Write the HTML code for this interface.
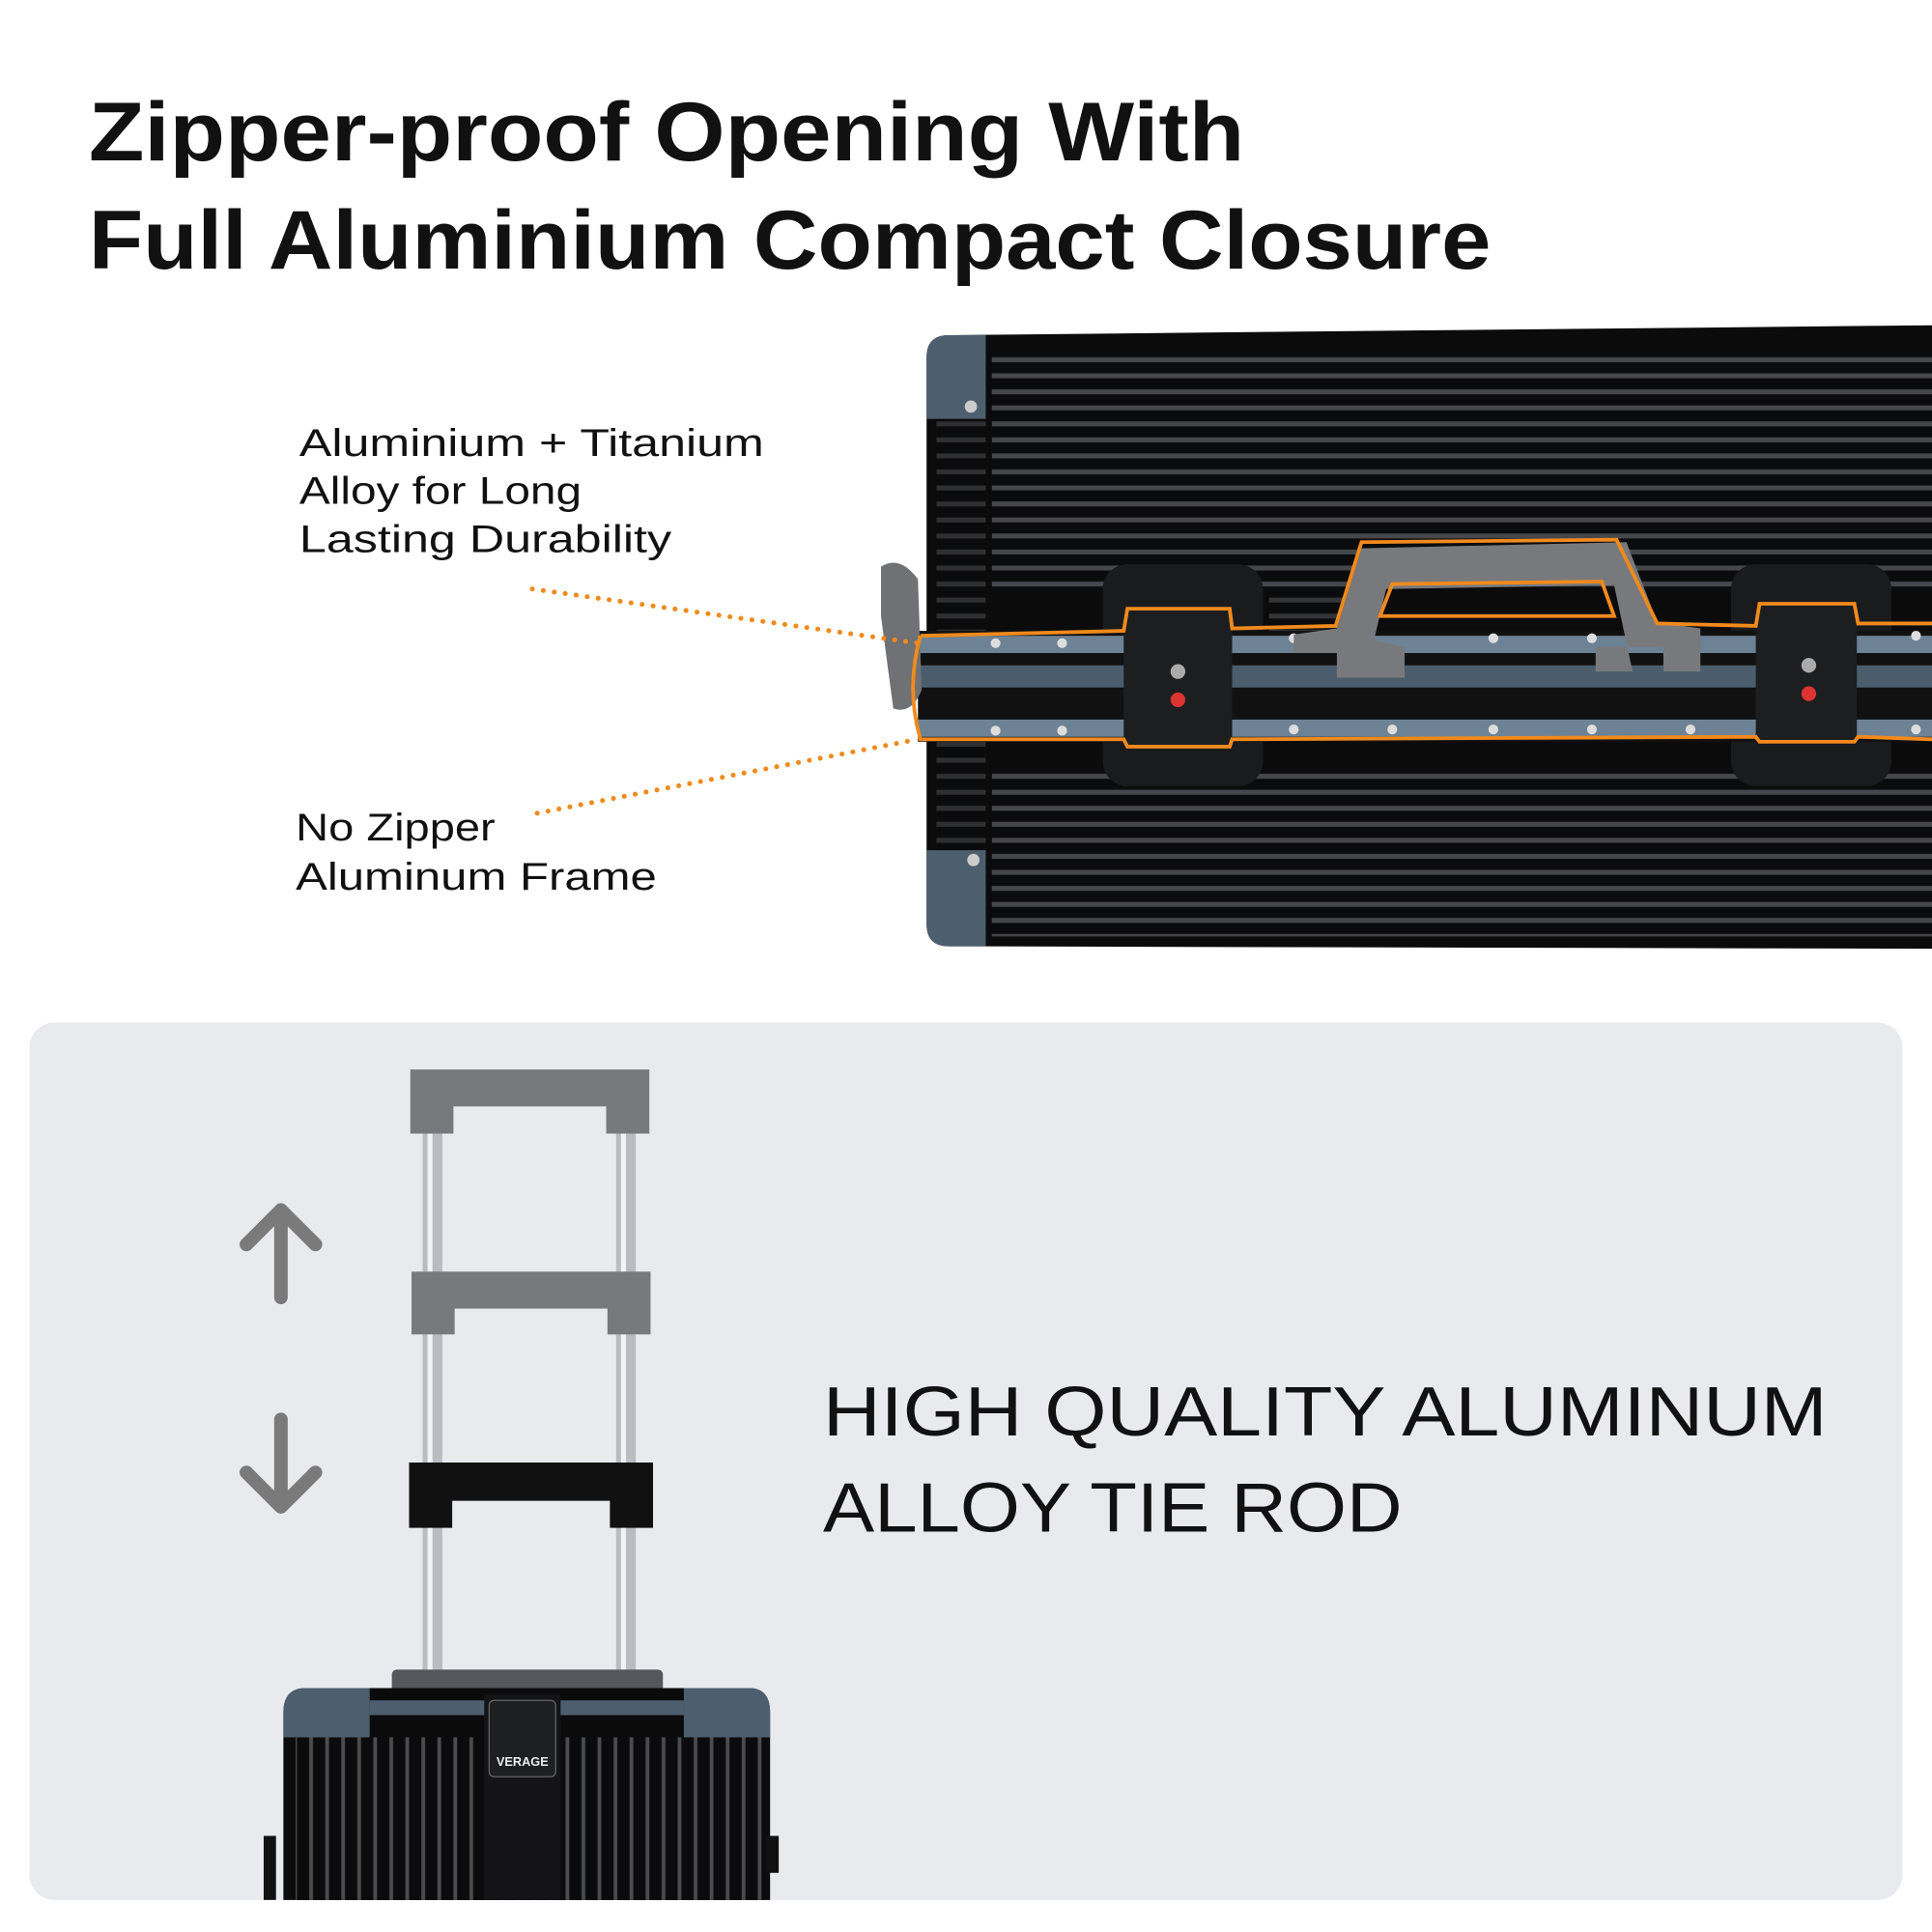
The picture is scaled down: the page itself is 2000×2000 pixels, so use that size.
<!DOCTYPE html>
<html><head><meta charset="utf-8"><style>
html,body{margin:0;padding:0;background:#fff;width:2000px;height:2000px;overflow:hidden}
svg{display:block}
text{font-family:"Liberation Sans",sans-serif}
</style></head><body>
<svg width="2000" height="2000" viewBox="0 0 1568 1568" xmlns="http://www.w3.org/2000/svg">
<defs>
<pattern id="ribs" width="10" height="13" patternUnits="userSpaceOnUse">
<rect width="10" height="13" fill="#0b0b0c"/>
<rect y="4" width="10" height="4" fill="#45474b"/>
</pattern>
<pattern id="vribs" width="13" height="10" patternUnits="userSpaceOnUse">
<rect width="13" height="10" fill="#0b0b0c"/>
<rect x="4" width="3" height="10" fill="#4a4c50"/>
</pattern>
</defs>
<rect width="1568" height="1568" fill="#fff"/>
<text x="72" y="130" font-size="68" font-weight="bold" fill="#111" textLength="938" lengthAdjust="spacingAndGlyphs">Zipper-proof Opening With</text>
<text x="72" y="218" font-size="68" font-weight="bold" fill="#111" textLength="1138" lengthAdjust="spacingAndGlyphs">Full Aluminium Compact Closure</text>

<!-- top suitcase -->
<path d="M770 272 L1568 264 L1568 770 L770 768 Q752 768 752 750 L752 290 Q752 272 770 272Z" fill="#0b0b0c"/>
<rect x="805" y="282" width="763" height="200" fill="url(#ribs)"/>
<rect x="805" y="625" width="763" height="135" fill="url(#ribs)"/>
<rect x="760" y="330" width="40" height="420" fill="url(#ribs)" opacity="0.6"/>
<rect x="1030" y="482" width="60" height="40" fill="url(#ribs)" opacity="0.7"/>
<path d="M752 290 Q752 272 770 272 L800 272 L800 340 L752 340Z" fill="#4d5e6e"/>
<path d="M752 690 L800 690 L800 768 L770 768 Q752 768 752 750Z" fill="#4d5e6e"/>
<circle cx="788" cy="330" r="5" fill="#ccc"/><circle cx="790" cy="698" r="5" fill="#ccc"/>
<rect x="895" y="458" width="130" height="180" rx="20" fill="#1a1b1d"/>
<rect x="1405" y="458" width="130" height="180" rx="20" fill="#1a1b1d"/>
<rect x="745" y="512" width="823" height="90" fill="#111"/>
<rect x="745" y="516" width="823" height="14" fill="#6d8294"/>
<rect x="745" y="540" width="823" height="18" fill="#4b5d6c"/>
<rect x="745" y="584" width="823" height="14" fill="#6d8294"/>
<g fill="#ddd">
<circle cx="808" cy="522" r="4"/><circle cx="862" cy="522" r="4"/><circle cx="1050" cy="518" r="4"/><circle cx="1212" cy="518" r="4"/><circle cx="1292" cy="518" r="4"/><circle cx="1555" cy="516" r="4"/>
<circle cx="808" cy="593" r="4"/><circle cx="862" cy="593" r="4"/><circle cx="1050" cy="592" r="4"/><circle cx="1130" cy="592" r="4"/><circle cx="1212" cy="592" r="4"/><circle cx="1292" cy="592" r="4"/><circle cx="1372" cy="592" r="4"/><circle cx="1555" cy="592" r="4"/>
</g>
<path d="M1050 545 L1050 515 L1085 510 L1105 445 L1320 440 L1345 505 L1380 510 L1380 545 L1350 545 L1350 525 L1295 525 L1295 545 L1325 545 L1310 475 L1125 478 L1115 520 L1140 525 L1140 550 L1085 550 L1085 530 L1050 530Z" fill="#77797c"/>
<rect x="912" y="494" width="88" height="112" rx="6" fill="#1d1e20"/>
<rect x="1425" y="490" width="82" height="112" rx="6" fill="#1d1e20"/>
<circle cx="956" cy="545" r="6" fill="#aaa"/><circle cx="956" cy="568" r="6" fill="#d33"/>
<circle cx="1468" cy="540" r="6" fill="#aaa"/><circle cx="1468" cy="563" r="6" fill="#d33"/>
<path d="M715 460 Q730 450 745 470 L748 560 Q740 580 725 575 L715 500Z" fill="#6f7174"/>
<path d="M747 516 L912 512 L915 494 L998 494 L1000 510 L1084 508 L1105 440 L1312 438 L1345 506 L1425 508 L1428 490 L1505 490 L1508 506 L1568 506 M1568 600 L1508 598 L1505 602 L1428 602 L1425 598 L1000 600 L998 606 L915 606 L912 600 L747 600 Q735 558 747 516" fill="none" stroke="#f08a1d" stroke-width="3"/>
<path d="M1120 500 L1130 474 L1300 472 L1310 500 Z" fill="none" stroke="#f08a1d" stroke-width="3"/>

<text x="243" y="370" font-size="31" fill="#111" textLength="377" lengthAdjust="spacingAndGlyphs">Aluminium + Titanium</text>
<text x="243" y="409" font-size="31" fill="#111" textLength="229" lengthAdjust="spacingAndGlyphs">Alloy for Long</text>
<text x="243" y="448" font-size="31" fill="#111" textLength="302" lengthAdjust="spacingAndGlyphs">Lasting Durability</text>
<text x="240" y="682" font-size="31" fill="#111" textLength="162" lengthAdjust="spacingAndGlyphs">No Zipper</text>
<text x="240" y="722" font-size="31" fill="#111" textLength="293" lengthAdjust="spacingAndGlyphs">Aluminum Frame</text>
<line x1="432" y1="478" x2="745" y2="522" stroke="#f08a1d" stroke-width="4" stroke-dasharray="0 9" stroke-linecap="round"/>
<line x1="436" y1="660" x2="745" y2="600" stroke="#f08a1d" stroke-width="4" stroke-dasharray="0 9" stroke-linecap="round"/>

<rect x="24" y="830" width="1520" height="712" rx="20" fill="#e9eaee"/>
<text x="668" y="1165" font-size="57" fill="#111" textLength="815" lengthAdjust="spacingAndGlyphs">HIGH QUALITY ALUMINUM</text>
<text x="668" y="1243" font-size="57" fill="#111" textLength="470" lengthAdjust="spacingAndGlyphs">ALLOY TIE ROD</text>
<g stroke="#7a7a7a" stroke-width="11" fill="none" stroke-linecap="round" stroke-linejoin="round">
<path d="M228 1053 L228 983 M200 1010 L228 982 L256 1010"/>
<path d="M228 1152 L228 1222 M200 1195 L228 1223 L256 1195"/>
</g>
<rect x="343" y="910" width="16" height="455" fill="#b9bcc0"/>
<rect x="500" y="910" width="16" height="455" fill="#b9bcc0"/>
<rect x="347" y="910" width="4" height="455" fill="#f2f3f4"/>
<rect x="504" y="910" width="4" height="455" fill="#f2f3f4"/>
<path d="M333 868 L527 868 L527 920 L492 920 L492 898 L368 898 L368 920 L333 920Z" fill="#77797c"/>
<path d="M334 1032 L528 1032 L528 1083 L493 1083 L493 1062 L369 1062 L369 1083 L334 1083Z" fill="#77797c"/>
<path d="M332 1187 L530 1187 L530 1240 L495 1240 L495 1218 L367 1218 L367 1240 L332 1240Z" fill="#111"/>
<rect x="318" y="1355" width="220" height="20" rx="4" fill="#54575b"/>
<path d="M248 1370 L608 1370 Q625 1370 625 1390 L625 1542 L230 1542 L230 1390 Q230 1370 248 1370Z" fill="#0b0b0c"/>
<rect x="240" y="1410" width="380" height="132" fill="url(#vribs)"/>
<path d="M248 1370 L300 1370 L300 1410 L230 1410 L230 1390 Q230 1370 248 1370Z" fill="#4d5e6e"/>
<path d="M555 1370 L608 1370 Q625 1370 625 1390 L625 1410 L555 1410Z" fill="#4d5e6e"/>
<rect x="300" y="1380" width="255" height="12" fill="#4d5e6e"/>
<rect x="393" y="1375" width="62" height="167" fill="#141416"/>
<rect x="397" y="1380" width="54" height="62" rx="4" fill="#1e1f21" stroke="#666" stroke-width="1"/>
<text x="424" y="1433" font-size="10" font-weight="bold" fill="#eee" text-anchor="middle">VERAGE</text>
<rect x="214" y="1490" width="10" height="52" fill="#111"/>
<rect x="622" y="1490" width="10" height="30" fill="#111"/>
</svg>
</body></html>
